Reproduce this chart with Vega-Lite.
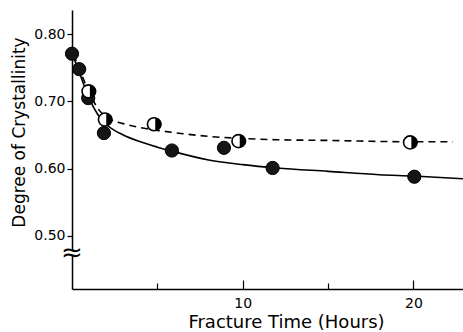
{
  "$schema": "https://vega.github.io/schema/vega-lite/v6.json",
  "width": 391,
  "height": 279,
  "autosize": {"type": "none"},
  "padding": {"left": 72, "top": 10, "right": 0, "bottom": 43},
  "background": "white",
  "config": {
    "view": {"stroke": null},
    "font": "DejaVu Sans",
    "axis": {"grid": false, "domainColor": "black", "domainWidth": 1.5, "tickColor": "black", "tickWidth": 1.2, "labelColor": "black", "titleColor": "black", "labelFont": "DejaVu Sans", "titleFont": "DejaVu Sans", "titleFontWeight": "normal"}
  },
  "datasets": {
    "filled": [
      {"t": 0.0, "c": 0.771},
      {"t": 0.42, "c": 0.748},
      {"t": 0.95, "c": 0.705},
      {"t": 1.87, "c": 0.653},
      {"t": 5.85, "c": 0.627},
      {"t": 8.9, "c": 0.631},
      {"t": 11.75, "c": 0.601},
      {"t": 20.05, "c": 0.588}
    ],
    "half": [
      {"t": 0.97, "c": 0.715},
      {"t": 1.93, "c": 0.673},
      {"t": 4.8, "c": 0.666},
      {"t": 9.75, "c": 0.641},
      {"t": 19.8, "c": 0.639}
    ],
    "fitSolid": [
      {"t": 0.0, "c": 0.772},
      {"t": 0.4, "c": 0.745},
      {"t": 1.0, "c": 0.705},
      {"t": 1.5, "c": 0.681},
      {"t": 2.0, "c": 0.666},
      {"t": 3.0, "c": 0.65},
      {"t": 4.0, "c": 0.64},
      {"t": 5.0, "c": 0.632},
      {"t": 6.0, "c": 0.625},
      {"t": 8.0, "c": 0.613},
      {"t": 10.0, "c": 0.606},
      {"t": 12.0, "c": 0.601},
      {"t": 15.0, "c": 0.596},
      {"t": 18.0, "c": 0.591},
      {"t": 20.0, "c": 0.589},
      {"t": 22.9, "c": 0.585}
    ],
    "fitDashed": [
      {"t": 0.1, "c": 0.77},
      {"t": 0.4, "c": 0.75},
      {"t": 1.0, "c": 0.714},
      {"t": 1.5, "c": 0.69},
      {"t": 2.0, "c": 0.677},
      {"t": 3.0, "c": 0.667},
      {"t": 4.0, "c": 0.661},
      {"t": 5.0, "c": 0.657},
      {"t": 6.5, "c": 0.652},
      {"t": 8.0, "c": 0.648},
      {"t": 10.0, "c": 0.645},
      {"t": 12.0, "c": 0.643},
      {"t": 15.0, "c": 0.642},
      {"t": 20.0, "c": 0.64},
      {"t": 22.3, "c": 0.64}
    ],
    "axisBreak": [
      {"t": 0, "c": 0.4745, "sym": "≈"}
    ]
  },
  "layer": [
    {
      "data": {"name": "fitSolid"},
      "mark": {"type": "line", "color": "black", "strokeWidth": 1.6, "interpolate": "monotone"},
      "encoding": {
        "x": {
          "field": "t", "type": "quantitative",
          "scale": {"domain": [0, 22.9], "nice": false},
          "axis": {
            "title": "Fracture Time (Hours)",
            "titleFontSize": 18,
            "titlePadding": 3,
            "titleX": 214,
            "titleAlign": "center",
            "values": [5, 10, 15, 20],
            "labelExpr": "datum.value % 10 === 0 ? datum.label : ''",
            "labelFontSize": 14,
            "tickSize": {"condition": {"test": "datum.value % 10 === 0", "value": -9}, "value": -6},
            "labelPadding": 16
          }
        },
        "y": {
          "field": "c", "type": "quantitative",
          "scale": {"domain": [0.421, 0.836], "nice": false, "zero": false},
          "axis": {
            "title": "Degree of Crystallinity",
            "titleFontSize": 17,
            "titlePadding": 5,
            "titleY": 122,
            "titleAlign": "center",
            "values": [0.5, 0.6, 0.7, 0.8],
            "format": ".2f",
            "labelFontSize": 14,
            "tickSize": 5,
            "labelPadding": 2
          }
        }
      }
    },
    {
      "data": {"name": "fitDashed"},
      "mark": {"type": "line", "color": "black", "strokeWidth": 1.6, "strokeDash": [7, 5], "interpolate": "monotone"},
      "encoding": {
        "x": {"field": "t", "type": "quantitative"},
        "y": {"field": "c", "type": "quantitative"}
      }
    },
    {
      "data": {"name": "filled"},
      "mark": {"type": "point", "shape": "circle", "filled": true, "fill": "#151515", "stroke": "black", "strokeWidth": 1, "size": 175, "opacity": 1},
      "encoding": {
        "x": {"field": "t", "type": "quantitative"},
        "y": {"field": "c", "type": "quantitative"}
      }
    },
    {
      "data": {"name": "half"},
      "mark": {"type": "point", "shape": "circle", "filled": true, "fill": "white", "stroke": "black", "strokeWidth": 1.6, "size": 170, "opacity": 1},
      "encoding": {
        "x": {"field": "t", "type": "quantitative"},
        "y": {"field": "c", "type": "quantitative"}
      }
    },
    {
      "data": {"name": "half"},
      "mark": {"type": "point", "shape": "M0.2,-1A1,1,0,0,1,0.2,1Z", "filled": true, "fill": "black", "strokeWidth": 0, "size": 170, "opacity": 1},
      "encoding": {
        "x": {"field": "t", "type": "quantitative"},
        "y": {"field": "c", "type": "quantitative"}
      }
    },
    {
      "data": {"name": "axisBreak"},
      "mark": {"type": "point", "shape": "square", "filled": true, "fill": "white", "strokeWidth": 0, "size": 30, "opacity": 1},
      "encoding": {
        "x": {"field": "t", "type": "quantitative"},
        "y": {"field": "c", "type": "quantitative"}
      }
    },
    {
      "data": {"name": "axisBreak"},
      "mark": {"type": "text", "fontSize": 26, "color": "black", "align": "center", "baseline": "middle", "font": "DejaVu Sans"},
      "encoding": {
        "x": {"field": "t", "type": "quantitative"},
        "y": {"field": "c", "type": "quantitative"},
        "text": {"field": "sym"}
      }
    }
  ]
}
